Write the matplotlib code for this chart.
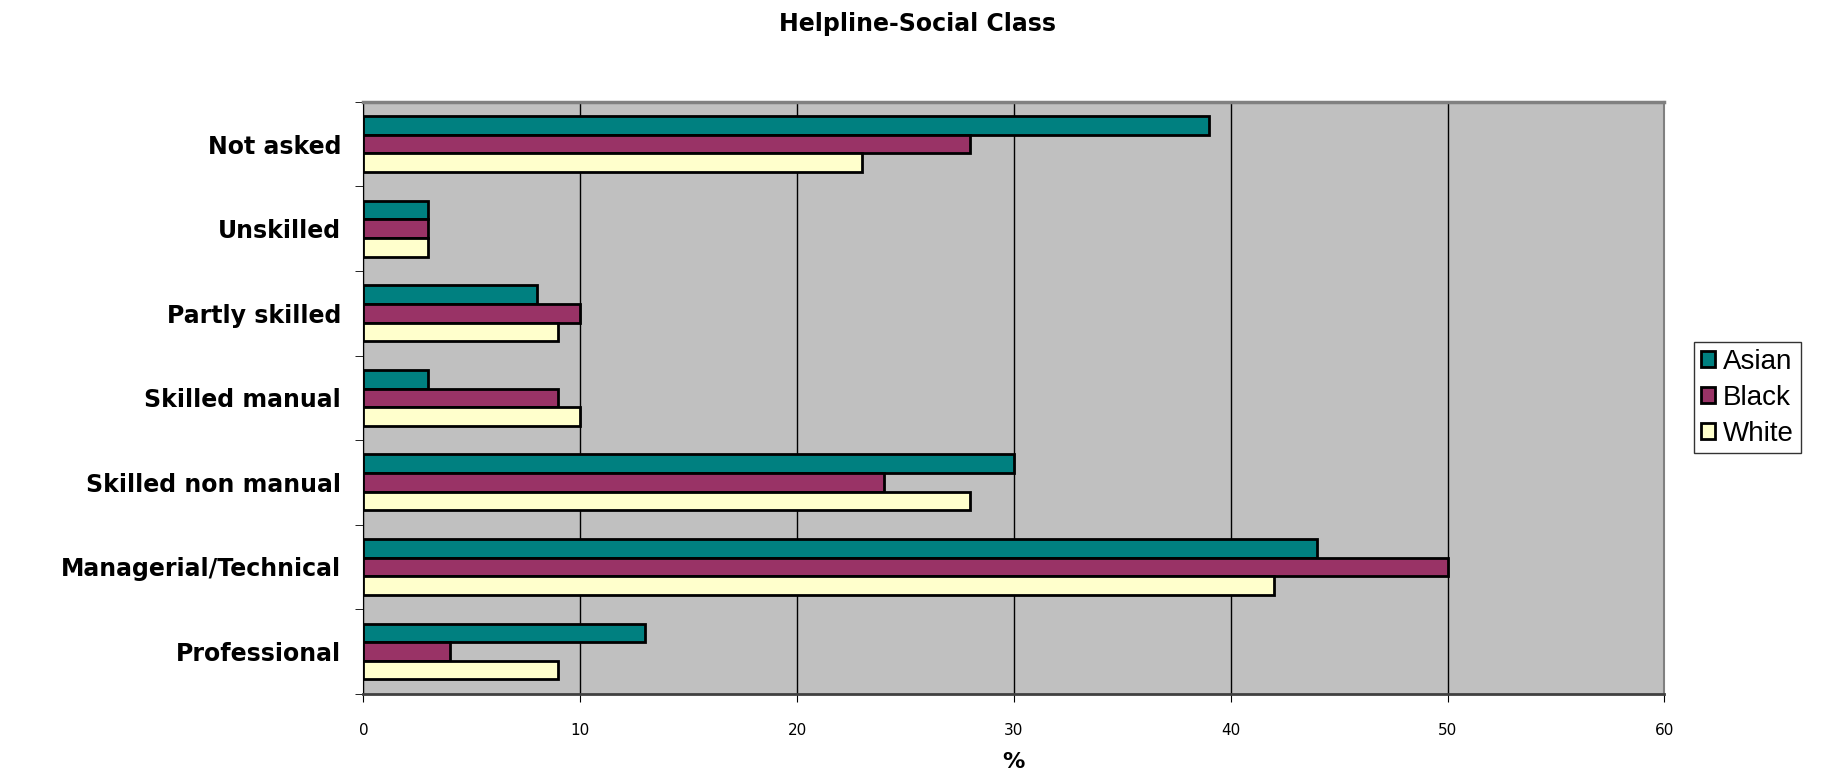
import matplotlib
matplotlib.use("Agg")
import matplotlib.pyplot as plt
import numpy as np

categories = ["Professional", "Managerial/Technical", "Skilled non manual",
              "Skilled manual", "Partly skilled", "Unskilled", "Not asked"]
asian = [13, 44, 30, 3, 8, 3, 39]
black = [4, 50, 24, 9, 10, 3, 28]
white = [9, 42, 28, 10, 9, 3, 23]
series = ["Asian", "Black", "White"]
colors = ["#008080", "#993366", "#FFFFCC"]

fig = plt.figure(figsize=(18.35, 7.77), dpi=100)
ax = fig.add_axes([0.198, 0.107, 0.709, 0.762])
ax.set_facecolor("#C0C0C0")

y = np.arange(len(categories))
h = 0.22
for i, (vals, c, name) in enumerate(zip([asian, black, white], colors, series)):
    ax.barh(y + h - i * h, vals, height=h, color=c, edgecolor="black",
            linewidth=2, label=name, zorder=3)

ax.set_xlim(0, 60)
ax.set_ylim(-0.5, len(categories) - 0.5)
ax.set_xticks(range(0, 61, 10))
ax.set_xticklabels([str(v) for v in range(0, 61, 10)], fontsize=11)
ax.tick_params(axis="x", length=6, pad=15)
ax.xaxis.grid(True, color="black", linewidth=1, zorder=1)

ax.set_yticks(y)
ax.set_yticklabels(categories, fontsize=17, fontweight="heavy")
ax.tick_params(axis="y", length=0, pad=16)
ax.set_yticks(np.arange(-0.5, len(categories), 1), minor=True)
ax.tick_params(axis="y", which="minor", length=6)

for s in ["top", "right"]:
    ax.spines[s].set_color("#808080")
ax.spines["top"].set_linewidth(2.5)
ax.spines["right"].set_linewidth(1.5)
ax.spines["left"].set_color("black")
ax.spines["bottom"].set_color("#404040")
ax.spines["bottom"].set_linewidth(2)

ax.set_xlabel("%", fontsize=16, fontweight="heavy", labelpad=10)
fig.suptitle("Helpline-Social Class", fontsize=17, fontweight="heavy", y=0.985)

leg = ax.legend(loc="center left", bbox_to_anchor=(1.012, 0.5),
                frameon=True, fancybox=False, edgecolor="black",
                handlelength=0.5, handleheight=0.5, handletextpad=0.3,
                borderpad=0.25, labelspacing=0.35,
                prop={"family": "Liberation Sans", "size": 20})
leg.get_frame().set_linewidth(1)

fig.savefig("out.png", dpi=100)
